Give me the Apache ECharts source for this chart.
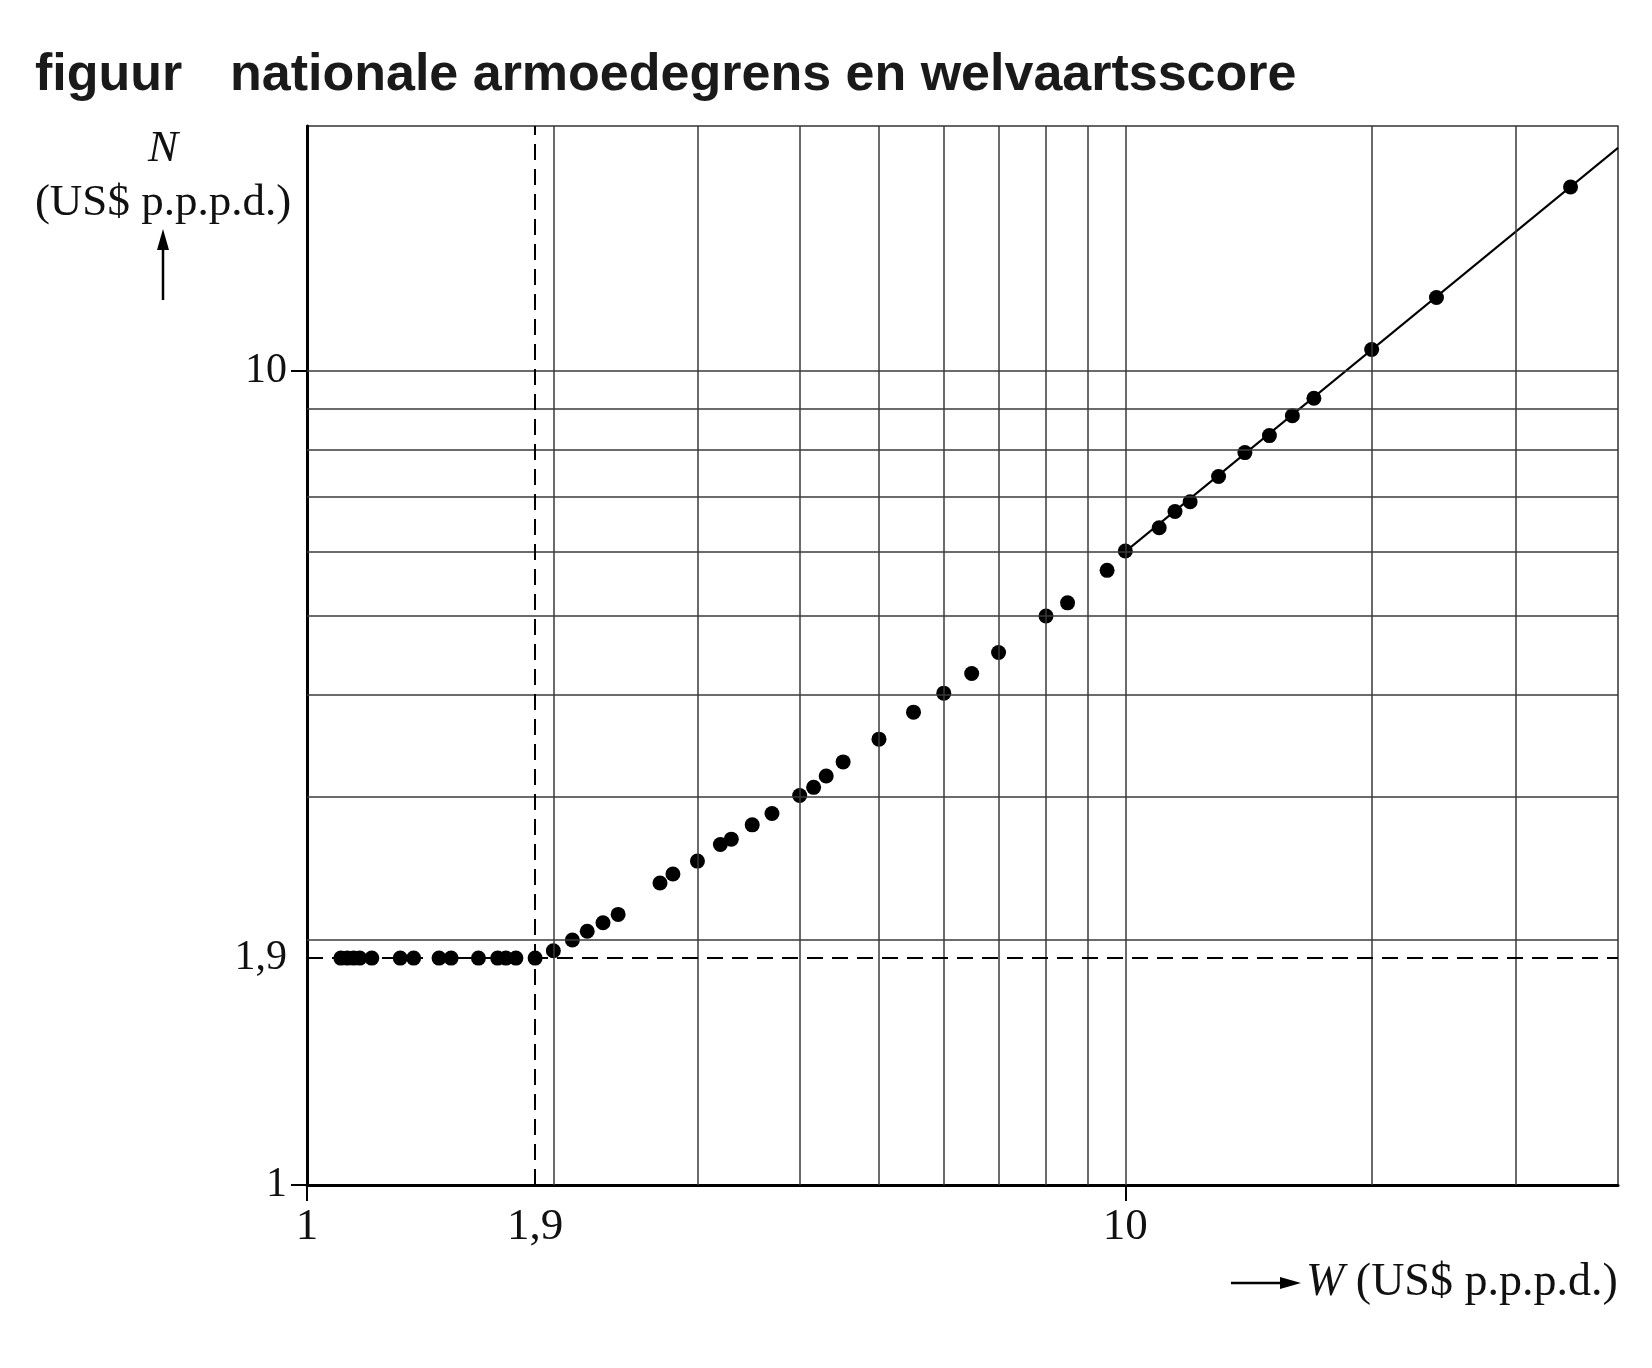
<!DOCTYPE html>
<html>
<head>
<meta charset="utf-8">
<script src="https://cdn.jsdelivr.net/npm/echarts@6/dist/echarts.min.js"></script>
<style>html,body{margin:0;padding:0;background:#fff}#c{width:1652px;height:1368px}</style>
</head>
<body>
<div id="c"></div>
<script>
// W: welvaartsscore (US$ p.p.p.d.), N: nationale armoedegrens (US$ p.p.p.d.)
const welvaart = [1.10,1.12,1.14,1.16,1.20,1.30,1.35,1.45,1.50,1.62,1.71,1.75,1.80,1.90,
  2.00,2.11,2.20,2.30,2.40,2.70,2.80,3.00,3.20,3.30,3.50,3.70,4.00,4.16,4.31,4.52,5.00,
  5.51,6.00,6.49,7.00,8.00,8.50,9.50,10.0,11.0,11.5,12.0,13.0,14.0,15.0,16.0,17.0,20.0,24.0,35.0];
const armoedegrens = [1.9,1.9,1.9,1.9,1.9,1.9,1.9,1.9,1.9,1.9,1.9,1.9,1.9,1.9,
  1.94,2.00,2.05,2.10,2.15,2.35,2.41,2.50,2.62,2.66,2.77,2.86,3.01,3.08,3.18,3.31,3.53,
  3.81,4.02,4.25,4.51,5.00,5.19,5.69,6.01,6.42,6.72,6.91,7.42,7.94,8.33,8.81,9.26,10.63,12.31,16.83];
const lijnW = [10, 40];
const lijnN = [6.0, 18.8];
const drempel = 1.9;
const xGridValues = [2,3,4,5,6,7,8,9,10,20,30];
const yGridValues = [2,3,4,5,6,7,8,9,10];
const xLabelValues = [1, 1.9, 10];
const yLabelValues = [1, 1.9, 10];
const tickValues = [1, 10];
const titleLabel = 'figuur';
const titleText = 'nationale armoedegrens en welvaartsscore';
const yName1 = 'N';
const yName2 = '(US$ p.p.p.d.)';
const xNameItalic = 'W';
const xNameRest = ' (US$ p.p.p.d.)';

const serif = '"Liberation Serif", "DejaVu Serif", serif';
const fmt = v => String(v).replace('.', ',');

const chart = echarts.init(document.getElementById('c'), null, {renderer: 'canvas'});

const gridMarks = xGridValues.map(v => ({xAxis: v}))
  .concat(yGridValues.map(v => ({yAxis: v})));
const dashMarks = [{xAxis: drempel}, {yAxis: drempel}];

chart.setOption({
  animation: false,
  backgroundColor: '#fff',
  grid: {left: 307, right: 34, top: 126, bottom: 183, show: true, borderColor: '#333', borderWidth: 1.5, containLabel: false},
  xAxis: {
    type: 'log', logBase: 10, min: 1, max: 40,
    axisLine: {show: true, lineStyle: {color: '#000', width: 3}},
    axisTick: {show: true, customValues: tickValues, length: 16, lineStyle: {color: '#000', width: 2}},
    axisLabel: {customValues: xLabelValues, formatter: fmt, fontFamily: serif, fontSize: 45, color: '#111', margin: 20},
    splitLine: {show: false}, minorSplitLine: {show: false}
  },
  yAxis: {
    type: 'log', logBase: 10, min: 1, max: 20,
    axisLine: {show: true, lineStyle: {color: '#000', width: 3}},
    axisTick: {show: true, customValues: tickValues, length: 16, lineStyle: {color: '#000', width: 2}},
    axisLabel: {customValues: yLabelValues, formatter: fmt, fontFamily: serif, fontSize: 42, color: '#111', margin: 20},
    splitLine: {show: false}, minorSplitLine: {show: false}
  },
  series: [
    {
      type: 'line', data: [], z: 1, silent: true,
      markLine: {silent: true, symbol: 'none', animation: false, label: {show: false},
        lineStyle: {color: '#3a3a3a', width: 1.5, type: 'solid'}, data: gridMarks}
    },
    {
      type: 'line', data: [], z: 2, silent: true,
      markLine: {silent: true, symbol: 'none', animation: false, label: {show: false},
        lineStyle: {color: '#000', width: 2, type: [16, 9]}, data: dashMarks}
    },
    {
      type: 'line', z: 3, symbol: 'none', silent: true,
      lineStyle: {color: '#000', width: 2},
      data: lijnW.map((w, i) => [w, lijnN[i]])
    },
    {
      type: 'scatter', z: 4, symbol: 'circle', symbolSize: 15, silent: true,
      itemStyle: {color: '#000', opacity: 1},
      data: welvaart.map((w, i) => [w, armoedegrens[i]])
    }
  ],
  graphic: [
    {type: 'text', left: 35, top: 50, style: {text: titleLabel, font: 'bold 52px "Liberation Sans", Arial, sans-serif', fill: '#1a1a1a'}},
    {type: 'text', left: 230, top: 50, style: {text: titleText, font: 'bold 52px "Liberation Sans", Arial, sans-serif', fill: '#1a1a1a'}},
    {type: 'text', x: 163, y: 149, style: {text: yName1, font: 'italic 45px ' + serif, fill: '#111', align: 'center', verticalAlign: 'middle'}},
    {type: 'text', x: 163, y: 203, style: {text: yName2, font: '45px ' + serif, fill: '#111', align: 'center', verticalAlign: 'middle'}},
    {type: 'line', shape: {x1: 163, y1: 300, x2: 163, y2: 245}, style: {stroke: '#000', lineWidth: 2.5}},
    {type: 'polygon', shape: {points: [[163, 229], [157, 250], [169, 250]]}, style: {fill: '#000'}},
    {type: 'line', shape: {x1: 1231, y1: 1283, x2: 1285, y2: 1283}, style: {stroke: '#000', lineWidth: 2.5}},
    {type: 'polygon', shape: {points: [[1301, 1283], [1280, 1277], [1280, 1289]]}, style: {fill: '#000'}},
    {type: 'text', x: 1306, y: 1283, style: {
      text: '{i|' + xNameItalic + '}' + xNameRest, font: '46px ' + serif, fill: '#111',
      align: 'left', verticalAlign: 'middle',
      rich: {i: {fontStyle: 'italic', fontFamily: serif, fontSize: 46}}
    }}
  ]
});
</script>
</body>
</html>
